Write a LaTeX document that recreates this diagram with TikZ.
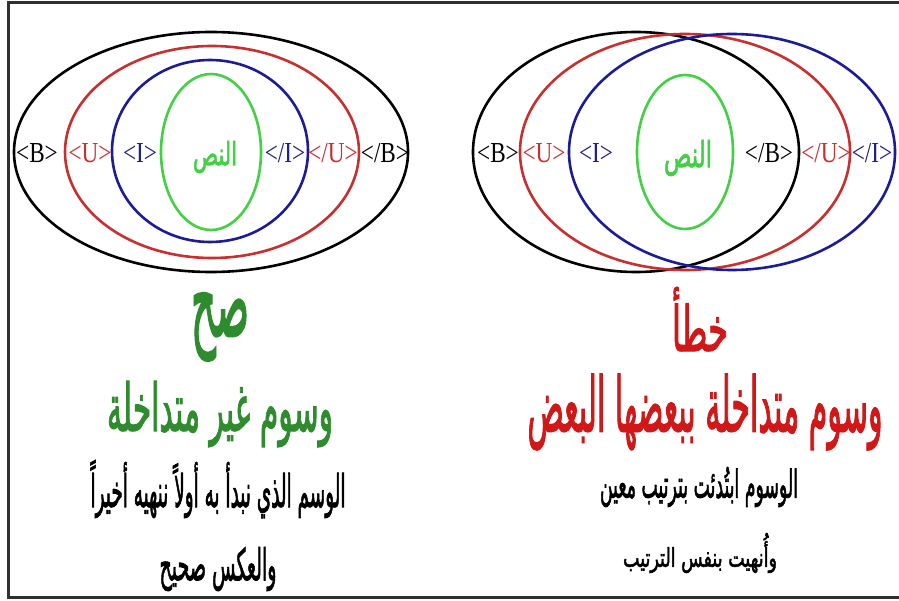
\documentclass[tikz,border=0pt]{standalone}
\usepackage{fontspec}
\usepackage{graphicx}
\setmainfont{Liberation Serif}
\newfontfamily\arabicbold[Script=Arabic,FakeBold=2.2]{DejaVu Sans}
\TeXXeTstate=1
\usetikzlibrary{shapes.geometric}
\definecolor{tagred}{HTML}{C83030}
\definecolor{tagblue}{HTML}{1C1C96}
\definecolor{txtgreen}{HTML}{44D044}
\definecolor{okgreen}{HTML}{2E8B2E}
\definecolor{badred}{HTML}{D01818}
\definecolor{frame}{HTML}{303030}
\newcommand\tg[1]{\scalebox{0.8}[1]{#1}}
\newcommand\ar[3]{\resizebox*{#1pt}{#2pt}{\arabicbold #3}}
\begin{document}
\begin{tikzpicture}[x=1pt,y=-1pt,
  ring/.style={draw, ellipse, line width=2.6pt, inner sep=0pt},
  tag/.style={font=\fontsize{29}{29}\selectfont, inner sep=0pt},
  arab/.style={inner sep=0pt}]
\useasboundingbox (0,0) rectangle (899,601);
\fill[white] (0,0) rectangle (899,601);
\draw[frame, line width=3pt] (899,3) -- (8.5,3) -- (8.5,597.5) -- (899,597.5);
% left diagram
\node[ring, black, minimum width=394, minimum height=240] (lb) at (211,152) {};
\node[ring, tagred, minimum width=294, minimum height=212] (lu) at (212,152) {};
\node[ring, tagblue, minimum width=196, minimum height=182] (li) at (210,151) {};
\node[ring, txtgreen, minimum width=100, minimum height=156] (lt) at (211,152) {};
\node[tag, black] (lbo) at (37,153) {\tg{<B>}};
\node[tag, tagred] (luo) at (90,153) {\tg{<U>}};
\node[tag, tagblue] (lio) at (140,153) {\tg{<I>}};
\node[arab, text=txtgreen] (ltx) at (215,157) {\ar{44}{32}{\beginR النص\endR}};
\node[tag, tagblue] (lic) at (285,153) {\tg{</I>}};
\node[tag, tagred] (luc) at (333,153) {\tg{</U>}};
\node[tag, black] (lbc) at (385,153) {\tg{</B>}};
% right diagram
\node[ring, black, minimum width=326, minimum height=240] (rb) at (636,152) {};
\node[ring, tagred, minimum width=330, minimum height=236] (ru) at (685,152) {};
\node[ring, tagblue, minimum width=326, minimum height=236] (ri) at (732,152) {};
\node[ring, txtgreen, minimum width=96, minimum height=154] (rt) at (685,152) {};
\node[tag, black] (rbo) at (498,153) {\tg{<B>}};
\node[tag, tagred] (ruo) at (544,153) {\tg{<U>}};
\node[tag, tagblue] (rio) at (596,153) {\tg{<I>}};
\node[arab, text=txtgreen] (rtx) at (688,158) {\ar{48}{36}{\beginR النص\endR}};
\node[tag, black] (rbc) at (769,153) {\tg{</B>}};
\node[tag, tagred] (ruc) at (826,153) {\tg{</U>}};
\node[tag, tagblue] (ric) at (872,153) {\tg{</I>}};
% left texts
\node[arab, text=okgreen] (l1) at (220,327) {\ar{58}{68}{\beginR صح\endR}};
\node[arab, text=okgreen] (l2) at (220,414) {\ar{226}{66}{\beginR وسوم غير متداخلة\endR}};
\node[arab, text=black] (l3) at (218,489) {\ar{255}{58}{\beginR الوسم الذي نبدأ به أولاً ننهيه أخيراً\endR}};
\node[arab, text=black] (l4) at (218,569) {\ar{117}{44}{\beginR والعكس صحيح\endR}};
% right texts
\node[arab, text=badred] (r1) at (700,319) {\ar{56}{64}{\beginR خطأ\endR}};
\node[arab, text=badred] (r2) at (705,412) {\ar{355}{76}{\beginR وسوم متداخلة ببعضها البعض\endR}};
\node[arab, text=black] (r3) at (699,487) {\ar{198}{40}{\beginR الوسوم ابتُدئت بترتيب معين\endR}};
\node[arab, text=black] (r4) at (700,553) {\ar{154}{40}{\beginR وأُنهيت بنفس الترتيب\endR}};
\end{tikzpicture}
\end{document}
